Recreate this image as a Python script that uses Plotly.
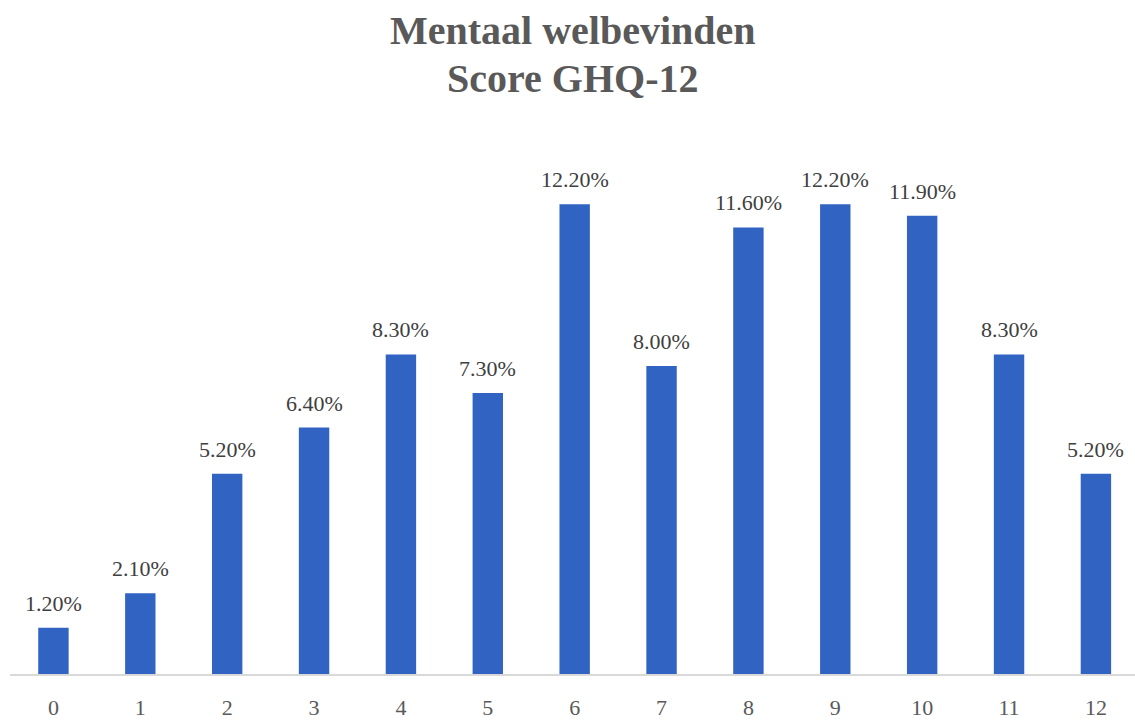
import plotly.graph_objects as go

scores = ["0", "1", "2", "3", "4", "5", "6", "7", "8", "9", "10", "11", "12"]
percentages = [1.2, 2.1, 5.2, 6.4, 8.3, 7.3, 12.2, 8.0, 11.6, 12.2, 11.9, 8.3, 5.2]
title_lines = ["Mentaal welbevinden", "Score GHQ-12"]

fig = go.Figure(go.Bar(
    x=scores,
    y=percentages,
    marker=dict(color="#3163C3", line=dict(width=0)),
    width=0.35,
    hoverinfo="x+y",
))

for s, v in zip(scores, percentages):
    fig.add_annotation(
        x=s, y=v, xref="x", yref="y", text=f"{v:.2f}%",
        xanchor="center", yanchor="bottom", yshift=10, showarrow=False,
        font=dict(family="Liberation Serif", size=22, color="#404040"),
    )

title_y = [1.183, 1.095]
for line, yy in zip(title_lines, title_y):
    fig.add_annotation(
        text="<b>" + line + "</b>", xref="paper", yref="paper",
        x=0.5, y=yy, xanchor="center", yanchor="middle", showarrow=False,
        font=dict(family="Liberation Serif", size=40, color="#595959"),
    )

fig.update_layout(
    width=1135, height=720,
    paper_bgcolor="white", plot_bgcolor="white",
    margin=dict(l=10, r=0, t=130, b=43),
    showlegend=False,
    xaxis=dict(
        type="category",
        range=[-0.5, 12.45],
        showgrid=False, zeroline=False,
        showline=True, linecolor="#D9D9D9", linewidth=1.5,
        ticks="", ticklabelstandoff=13,
        tickfont=dict(family="Liberation Serif", size=22, color="#595959"),
    ),
    yaxis=dict(
        range=[0, 14.13],
        visible=False, showgrid=False, zeroline=False,
    ),
)

fig.write_html("out.html", config={"displayModeBar": False},
               post_script="document.body.style.margin='0';")
